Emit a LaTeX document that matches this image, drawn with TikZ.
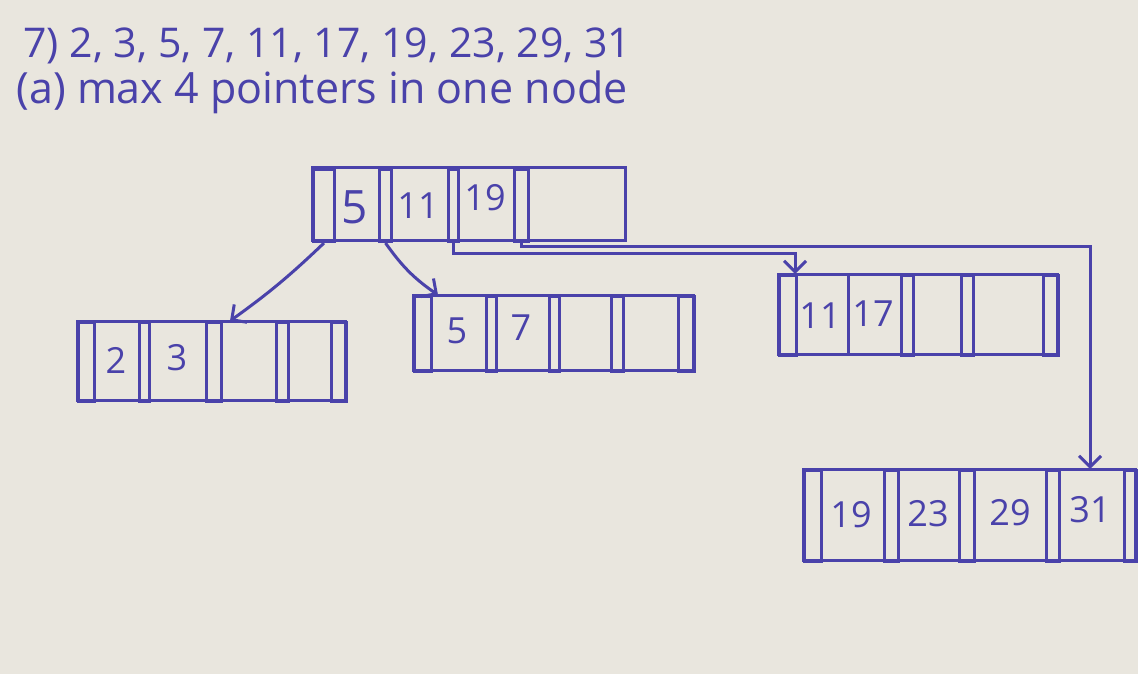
\documentclass[tikz,border=0pt]{standalone}
\usepackage{fontspec}
\setmainfont{Open Sans}
\usetikzlibrary{arrows.meta}
\definecolor{ink}{RGB}{74,66,170}
\definecolor{paper}{RGB}{233,230,222}

\tikzset{
  ptr/.style 2 args={draw, anchor=north west, inner sep=0pt,
    minimum width=#1, minimum height=#2},
  key/.style={inner sep=0pt, font=\fontsize{36}{42}\selectfont},
  arr/.style={-{Straight Barb[length=11pt,width=22pt]}},
}

\begin{document}
\begin{tikzpicture}[x=1pt,y=-1pt,line width=3pt,color=ink]
\fill[paper] (0,0) rectangle (1138,674);

\node[anchor=base west, inner sep=0pt, font=\fontsize{41}{48}\selectfont] (title) at (22,58) {7) 2, 3, 5, 7, 11, 17, 19, 23, 29, 31};
\node[anchor=base west, inner sep=0pt, font=\fontsize{43}{48}\selectfont] (task) at (15,104) {(a) max 4 pointers in one node};

% root
\draw (312,168) rectangle (625,240);
\node[ptr={21}{72}] (rp1) at (312,168) {};
\node[ptr={12}{72}] (rp2) at (378,168) {};
\node[ptr={10}{72}] (rp3) at (447,168) {};
\node[ptr={14}{72}] (rp4) at (513,168) {};
\node[key, font=\fontsize{46}{50}\selectfont] (rk1) at (355,207) {5};
\node[key] (rk2) at (418,206) {11};
\node[key] (rk3) at (485,198) {19};

% leaf 1
\draw (77,321) rectangle (345,400);
\node[ptr={16}{79}] (a1) at (77,321) {};
\node[ptr={10}{79}] (a2) at (138,321) {};
\node[ptr={15}{79}] (a3) at (205,321) {};
\node[ptr={12}{79}] (a4) at (275,321) {};
\node[ptr={15}{79}] (a5) at (330,321) {};
\node[key] (ak1) at (116,360) {2};
\node[key] (ak2) at (177,358) {3};
\coordinate (ain) at (230,321);

% leaf 2
\draw (413,295) rectangle (693,370);
\node[ptr={17}{75}] (b1) at (413,295) {};
\node[ptr={10}{75}] (b2) at (485,295) {};
\node[ptr={10}{75}] (b3) at (548,295) {};
\node[ptr={12}{75}] (b4) at (610,295) {};
\node[ptr={16}{75}] (b5) at (677,295) {};
\node[key] (bk1) at (457,331) {5};
\node[key] (bk2) at (521,328) {7};
\coordinate (bin) at (438,295);

% leaf 3
\draw (778,274) rectangle (1057,354);
\node[ptr={17}{80}] (c1) at (778,274) {};
\node[ptr={12}{80}] (c2) at (900,274) {};
\node[ptr={12}{80}] (c3) at (960,274) {};
\node[ptr={15}{80}] (c4) at (1042,274) {};
\draw (848,274) -- (848,354);
\node[key] (ck1) at (820,316) {11};
\node[key] (ck2) at (873,314) {17};
\coordinate (cin) at (795,274);

% leaf 4
\draw (803,469) rectangle (1135,560);
\node[ptr={17}{91}] (d1) at (803,469) {};
\node[ptr={14}{91}] (d2) at (883,469) {};
\node[ptr={15}{91}] (d3) at (958,469) {};
\node[ptr={13}{91}] (d4) at (1045,469) {};
\node[ptr={12}{91}] (d5) at (1123,469) {};
\node[key] (dk1) at (851,515) {19};
\node[key] (dk2) at (928,514) {23};
\node[key] (dk3) at (1010,513) {29};
\node[key] (dk4) at (1090,510) {31};
\coordinate (din) at (1090,469);

\draw[arr] (rp1.south) to[bend left=4] (ain);
\draw[arr] (rp2.south) to[bend right=10] (bin);
\draw[arr] (rp3.south) -- ++(0,10) -| (cin);
\draw[arr] (rp4.south) -- ++(0,3) -| (din);
\end{tikzpicture}
\end{document}
